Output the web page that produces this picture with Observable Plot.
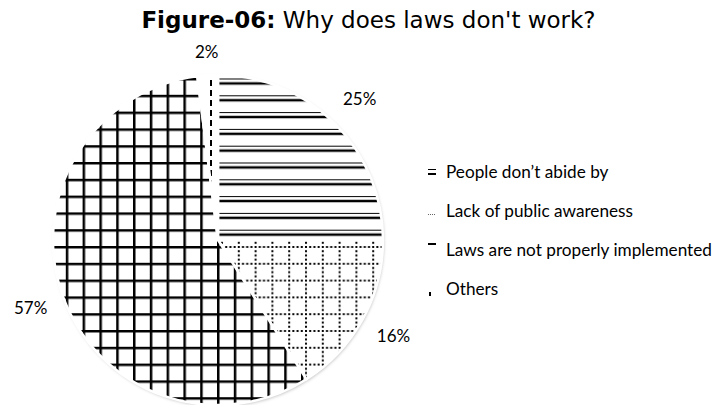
<!DOCTYPE html>
<html><head><meta charset="utf-8">
<script src="https://cdn.jsdelivr.net/npm/d3@7"></script>
<script src="https://cdn.jsdelivr.net/npm/@observablehq/plot@0.6"></script>
<style>
body{margin:0;background:#fff;}
#wrap{position:relative;width:717px;height:405px;overflow:hidden;font-family:Lato,sans-serif;}
#chart{position:absolute;left:0;top:0;}
#title{position:absolute;left:10px;top:7px;width:717px;text-align:center;font-family:"DejaVu Sans",sans-serif;font-size:23px;white-space:nowrap;color:#000}
#title b{font-weight:bold}
#legend{position:absolute;left:426px;top:160px;font-family:Lato,sans-serif;font-size:17.2px;color:#000}
.li{position:relative;height:39px;padding-left:20px;line-height:24px;white-space:nowrap}
.li svg{position:absolute;left:0;top:0}
</style></head><body>
<div id="wrap"><div id="chart"></div>
<div id="title"><b>Figure-06:</b> Why does laws don't work?</div>
<div id="legend"></div></div>
<script>
const categories = ["People don’t abide by", "Lack of public awareness", "Laws are not properly implemented", "Others"];
const values = [25, 16, 57, 2];
const pctLabels = ["25%", "16%", "57%", "2%"];
const patternIds = ["hlines", "dotgrid", "grid", "vdash"];

const data = categories.map((c, i) => ({category: c, value: values[i], label: pctLabels[i], pattern: patternIds[i]}));
const arcs = d3.pie().sort(null).value(d => d.value)(data);
const labelData = arcs.map(a => {
  const mid = (a.startAngle + a.endAngle) / 2;
  const rr = a.data.value < 5 ? 1.14 : 1.21;
  return {x: rr * Math.sin(mid), y: rr * Math.cos(mid), text: a.data.label};
});

function pieMark(index, scales, vals, dimensions) {
  const {x, y} = scales;
  const cx = x(0), cy = y(0), r = x(1) - x(0);
  const g = d3.create("svg:g");
  const defs = g.append("defs");
  const S = 16.8;
  // horizontal embossed lines
  const p1 = defs.append("pattern").attr("id", "hlines").attr("patternUnits", "userSpaceOnUse")
    .attr("width", 40).attr("height", S).attr("y", 6.5);
  p1.append("rect").attr("x", 0).attr("y", 0).attr("width", 40).attr("height", S).attr("fill", "#fff");
  p1.append("line").attr("x1", 0).attr("x2", 40).attr("y1", 0.5).attr("y2", 0.5).attr("stroke", "#000").attr("stroke-width", 1.2);
  p1.append("line").attr("x1", 0).attr("x2", 40).attr("y1", 5).attr("y2", 5).attr("stroke", "#000").attr("stroke-width", 2.4);
  // solid grid
  const p2 = defs.append("pattern").attr("id", "grid").attr("patternUnits", "userSpaceOnUse")
    .attr("width", S).attr("height", S).attr("x", -1).attr("y", 6);
  p2.append("rect").attr("width", S).attr("height", S).attr("fill", "#fff");
  p2.append("path").attr("d", `M1.2,0V${S}M0,1.2H${S}`).attr("stroke", "#000").attr("stroke-width", 2.6);
  // dotted grid
  const p3 = defs.append("pattern").attr("id", "dotgrid").attr("patternUnits", "userSpaceOnUse")
    .attr("width", S).attr("height", S).attr("x", 3).attr("y", 6);
  p3.append("rect").attr("width", S).attr("height", S).attr("fill", "#fff");
  p3.append("path").attr("d", `M1,0V${S}M0,1H${S}`).attr("stroke", "#000").attr("stroke-width", 2).attr("stroke-dasharray", "2,2.2");
  // vertical dashed
  const p4 = defs.append("pattern").attr("id", "vdash").attr("patternUnits", "userSpaceOnUse")
    .attr("width", 30).attr("height", 10).attr("x", -7 - 15);
  p4.append("rect").attr("width", 30).attr("height", 10).attr("fill", "#fff");
  p4.append("line").attr("x1", 15).attr("x2", 15).attr("y1", 0).attr("y2", 6).attr("stroke", "#000").attr("stroke-width", 2);

  const shadow = defs.append("filter").attr("id", "shd").attr("x", "-10%").attr("y", "-10%").attr("width", "120%").attr("height", "120%");
  shadow.append("feDropShadow").attr("dx", 1).attr("dy", 1.5).attr("stdDeviation", 1.5).attr("flood-color", "#000").attr("flood-opacity", 0.25);

  const arc = d3.arc().innerRadius(0).outerRadius(r);
  const pg = g.append("g").attr("transform", `translate(${cx},${cy})`);
  pg.append("circle").attr("r", r).attr("fill", "#fff").attr("filter", "url(#shd)");
  pg.selectAll("path.slice").data(arcs).join("path").attr("class", "slice")
    .attr("d", arc).attr("fill", d => `url(#${d.data.pattern})`)
    .attr("stroke", "#fff").attr("stroke-width", 2.5).attr("stroke-linejoin", "round");
  return g.node();
}

const chart = Plot.plot({
  width: 717, height: 405,
  marginLeft: 53, marginRight: 334, marginTop: 75, marginBottom: 0,
  x: {domain: [-1, 1], axis: null},
  y: {domain: [-1, 1], axis: null},
  marks: [
    pieMark,
    Plot.text(labelData, {x: "x", y: "y", text: "text", fontSize: 17, fill: "#000", fontFamily: "Lato"})
  ]
});
chart.style.overflow = "visible";
document.getElementById("chart").appendChild(chart);

// legend
const swatches = [
  `<line x1="2" x2="10" y1="9.5" y2="9.5" stroke="#000" stroke-width="1"/><line x1="2" x2="10" y1="14" y2="14" stroke="#000" stroke-width="2"/>`,
  `<line x1="2" x2="10" y1="15.5" y2="15.5" stroke="#666" stroke-width="1" stroke-dasharray="1,1"/>`,
  `<line x1="2" x2="10" y1="6" y2="6" stroke="#000" stroke-width="2"/>`,
  `<rect x="3" y="15" width="2" height="4" fill="#000"/>`
];
const leg = d3.select("#legend");
categories.forEach((c, i) => {
  const row = leg.append("div").attr("class", "li");
  row.html(`<svg width="14" height="24">${swatches[i]}</svg>`);
  row.append("span").text(c);
});
</script>
</body></html>
